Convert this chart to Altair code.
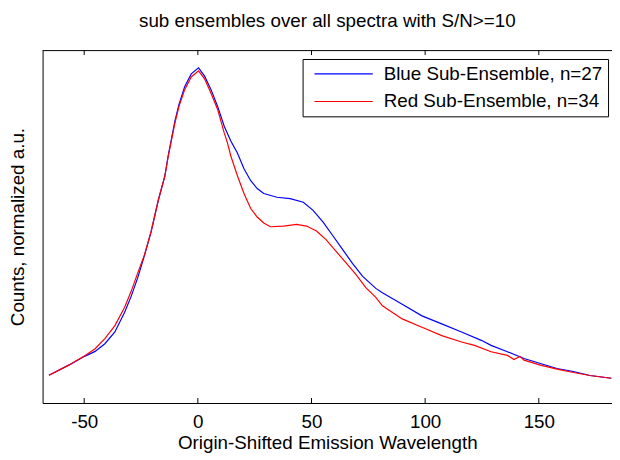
import altair as alt
import pandas as pd

FONT = "Liberation Sans"

blue_x = [-65.5, -56.8, -49.6, -45.2, -40.9, -36.5, -32.2, -29.3, -26.4, -23.5,
          -20.6, -17.4, -14.5, -13.0, -10.1, -8.3, -5.8, -2.9, 0.3, 2.9,
          5.8, 8.7, 11.6, 14.5, 17.4, 20.3, 23.2, 26.1, 29.0, 34.8,
          40.6, 46.4, 50.7, 55.1, 59.4, 63.8, 68.1, 72.5, 78.3, 81.2,
          89.9, 98.6, 107.3, 116.0, 124.7, 129.0, 136.2, 143.5, 150.7, 158.0,
          165.2, 172.5, 181.9]
blue_y = [0.083, 0.113, 0.140, 0.154, 0.177, 0.212, 0.271, 0.319, 0.375, 0.440,
          0.510, 0.605, 0.678, 0.740, 0.841, 0.891, 0.944, 0.982, 1.000, 0.976,
          0.935, 0.885, 0.826, 0.782, 0.746, 0.699, 0.664, 0.640, 0.625, 0.614,
          0.610, 0.599, 0.575, 0.540, 0.499, 0.457, 0.416, 0.378, 0.342, 0.329,
          0.295, 0.260, 0.236, 0.212, 0.187, 0.172, 0.153, 0.133, 0.118, 0.103,
          0.094, 0.082, 0.074]

red_x = [-65.5, -56.8, -49.6, -45.2, -40.9, -36.5, -32.2, -29.3, -26.4, -23.5,
         -20.6, -17.4, -14.5, -13.0, -10.1, -8.3, -5.8, -2.9, 0.3, 2.9,
         5.8, 8.7, 11.6, 13.0, 14.5, 17.4, 20.3, 23.2, 26.1, 29.0,
         31.9, 37.7, 43.5, 47.8, 52.2, 56.5, 60.9, 65.2, 69.6, 73.9,
         78.3, 81.2, 89.9, 98.6, 107.3, 116.0, 121.7, 129.0, 136.2, 139.1,
         141.7, 143.5, 150.7, 158.0, 165.2, 172.5, 181.9]
red_y = [0.083, 0.113, 0.142, 0.162, 0.192, 0.231, 0.286, 0.334, 0.389, 0.442,
         0.511, 0.605, 0.678, 0.737, 0.835, 0.885, 0.935, 0.973, 0.991, 0.968,
         0.924, 0.876, 0.806, 0.777, 0.737, 0.678, 0.625, 0.581, 0.555, 0.537,
         0.526, 0.528, 0.533, 0.528, 0.513, 0.487, 0.452, 0.418, 0.383, 0.344,
         0.315, 0.290, 0.251, 0.226, 0.201, 0.182, 0.172, 0.153, 0.142, 0.130,
         0.139, 0.128, 0.113, 0.101, 0.091, 0.082, 0.074]

series_names = ["Blue Sub-Ensemble, n=27", "Red Sub-Ensemble, n=34"]
series_colors = ["#0000ff", "#ff0000"]
tick_values = [-50, 0, 50, 100, 150]
x_domain = [-68.3, 182.2]
y_domain = [0, 1.053]

W, H = 576, 357

blue_df = pd.DataFrame({"x": blue_x, "y": blue_y, "series": series_names[0]})
red_df = pd.DataFrame({"x": red_x, "y": red_y, "series": series_names[1]})
ticks_df = pd.DataFrame({"x": tick_values})
frame_df = pd.DataFrame({"k": [0]})

xscale = alt.Scale(domain=x_domain, nice=False, zero=False)
yscale = alt.Scale(domain=y_domain, nice=False, zero=False)
cscale = alt.Scale(domain=series_names, range=series_colors)

x_axis = alt.Axis(values=tick_values, labelExpr="'' + datum.value", tickSize=0,
                  ticks=False, grid=False, labelFont=FONT, labelFontSize=19,
                  labelColor="black", labelPadding=10, domainColor="black",
                  title="Origin-Shifted Emission Wavelength", titleFont=FONT,
                  titleFontSize=19, titleFontWeight="normal", titleColor="black",
                  titlePadding=2)
y_axis = alt.Axis(labels=False, ticks=False, grid=False, domainColor="black",
                  title="Counts, normalized a.u.", titleFont=FONT, titleFontSize=19,
                  titleFontWeight="normal", titleColor="black", titlePadding=15)

legend = alt.Legend(title=None, orient="none", legendX=263, legendY=9,
                    symbolType="stroke", symbolSize=3481, symbolStrokeWidth=1.2,
                    clipHeight=20, rowPadding=8, padding=5, strokeColor="black",
                    fillColor="white", labelFont=FONT, labelFontSize=19,
                    labelColor="black", labelOffset=10, symbolOffset=6,
                    labelLimit=400)

blue = alt.Chart(blue_df).mark_line(strokeWidth=1.2).encode(
    x=alt.X("x:Q", scale=xscale, axis=x_axis),
    y=alt.Y("y:Q", scale=yscale, axis=y_axis),
    color=alt.Color("series:N", scale=cscale, legend=legend),
)
red = alt.Chart(red_df).mark_line(strokeWidth=1.2).encode(
    x=alt.X("x:Q", scale=xscale, axis=x_axis),
    y=alt.Y("y:Q", scale=yscale, axis=y_axis),
    color=alt.Color("series:N", scale=cscale, legend=legend),
)

top_border = alt.Chart(frame_df).mark_rule(color="black", strokeWidth=1).encode(
    x=alt.value(0), x2=alt.value(W), y=alt.value(0.5)
)
top_ticks = alt.Chart(ticks_df).mark_rule(color="black", strokeWidth=1).encode(
    x=alt.X("x:Q", scale=xscale, axis=x_axis), y=alt.value(0), y2=alt.value(5)
)
bottom_ticks = alt.Chart(ticks_df).mark_rule(color="black", strokeWidth=1).encode(
    x=alt.X("x:Q", scale=xscale, axis=x_axis), y=alt.value(H), y2=alt.value(H - 5)
)

chart = alt.layer(blue, red, top_border, top_ticks, bottom_ticks).properties(
    width=W, height=H,
    autosize=alt.AutoSizeParams(type="none"),
    padding={"left": 35, "top": 40, "right": 0, "bottom": 51},
    title=alt.TitleParams("sub ensembles over all spectra with S/N>=10", font=FONT,
                          fontSize=19, fontWeight="normal", color="black",
                          anchor="middle", baseline="alphabetic", offset=22, dy=18),
    background="white",
).configure_view(stroke=None)

chart.save("out.html", embed_options={"renderer": "svg", "actions": False})
